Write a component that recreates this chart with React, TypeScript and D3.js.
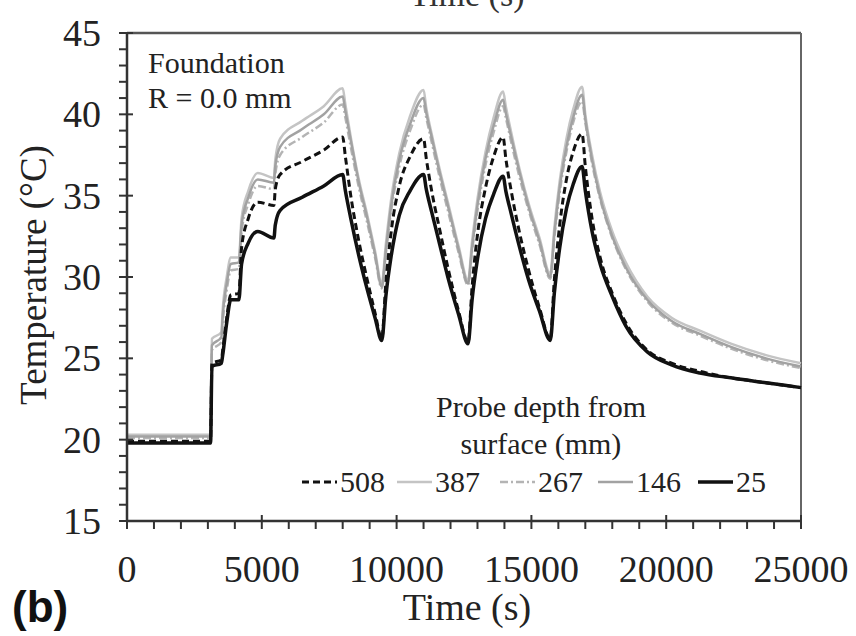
import React from 'react';
import * as d3 from 'd3';

// time grid (s) shared by all probes
const times = [0, 3100, 3150, 3500, 3550, 3700, 3850, 4150, 4250, 4500, 4850, 5450, 5500, 5680, 6500, 7300, 8000,
  8100, 8300, 8600, 8900, 9200, 9450,
  9600, 9800, 10100, 10500, 11000,
  11100, 11300, 11600, 11900, 12300, 12650,
  12800, 13000, 13300, 13600, 13950,
  14050, 14250, 14550, 14900, 15300, 15700,
  15850, 16050, 16300, 16550, 16880,
  17000, 17250, 17550, 18000, 18500, 19300, 20200, 21250, 22400, 23700, 25000];

// temperatures (°C) by probe depth
const t387 = [20.3, 20.3, 26.2, 26.6, 28.0, 30.0, 31.2, 31.2, 33.6, 35.3, 36.4, 36.1, 37.2, 38.5, 39.6, 40.5, 41.6,
  40.6, 38.6, 36.0, 33.9, 31.6, 29.6,
  32.0, 34.8, 37.6, 39.9, 41.5,
  40.4, 38.8, 36.6, 34.6, 31.9, 29.8,
  32.2, 34.8, 37.7, 39.8, 41.4,
  40.5, 38.9, 36.7, 34.5, 32.4, 30.2,
  33.0, 35.9, 38.5, 40.3, 41.7,
  40.0, 37.5, 35.2, 32.8, 30.9, 28.8, 27.5, 26.7, 25.9, 25.2, 24.7];

const t146 = [20.2, 20.2, 25.8, 26.3, 27.6, 29.6, 30.8, 30.9, 33.2, 34.9, 36.0, 35.8, 36.8, 38.0, 39.1, 40.0, 41.1,
  40.2, 38.4, 35.8, 33.7, 31.4, 29.4,
  31.6, 34.4, 37.2, 39.4, 41.0,
  40.1, 38.6, 36.4, 34.4, 31.7, 29.6,
  31.8, 34.4, 37.3, 39.3, 40.9,
  40.1, 38.6, 36.5, 34.3, 32.2, 30.0,
  32.6, 35.5, 38.0, 39.8, 41.2,
  39.7, 37.2, 34.9, 32.5, 30.6, 28.6, 27.3, 26.5, 25.7, 25.0, 24.5];

const t267 = [20.1, 20.1, 25.5, 26.0, 27.2, 29.2, 30.4, 30.5, 32.8, 34.5, 35.6, 35.4, 36.3, 37.5, 38.6, 39.5, 40.6,
  39.8, 38.0, 35.5, 33.4, 31.2, 29.3,
  31.4, 34.1, 36.8, 39.0, 40.6,
  39.8, 38.3, 36.1, 34.1, 31.5, 29.5,
  31.6, 34.1, 36.9, 38.9, 40.5,
  39.8, 38.3, 36.2, 34.1, 32.0, 29.9,
  32.4, 35.2, 37.7, 39.5, 40.8,
  39.5, 37.0, 34.8, 32.4, 30.5, 28.5, 27.2, 26.4, 25.6, 24.9, 24.4];

const t508 = [19.9, 19.9, 24.7, 24.9, 25.5, 27.5, 28.9, 29.0, 31.8, 33.6, 34.6, 34.4, 35.4, 36.3, 37.1, 37.8, 38.6,
  37.4, 35.0, 32.2, 29.9, 27.8, 26.2,
  29.6, 32.8, 35.6, 37.4, 38.5,
  37.3, 35.3, 32.9, 30.6, 27.9, 26.0,
  29.4, 32.6, 35.5, 37.4, 38.6,
  37.3, 35.3, 32.8, 30.4, 28.1, 26.2,
  29.8, 33.2, 36.0, 37.7, 38.8,
  36.8, 33.6, 31.2, 29.0, 27.2, 25.5, 24.7, 24.2, 23.8, 23.5, 23.2];

const t25 = [19.8, 19.8, 24.5, 24.7, 25.2, 27.2, 28.6, 28.6, 30.8, 32.1, 32.8, 32.4, 33.2, 34.1, 34.9, 35.6, 36.3,
  35.3, 33.6, 31.3, 29.3, 27.5, 26.1,
  28.8, 31.3, 33.8, 35.3, 36.3,
  35.4, 34.0, 32.0, 30.0, 27.7, 25.9,
  28.6, 31.1, 33.6, 35.1, 36.2,
  35.3, 33.9, 31.9, 29.8, 27.9, 26.1,
  29.0, 31.8, 34.2, 35.7, 36.8,
  35.3, 32.8, 30.8, 28.8, 27.0, 25.4, 24.6, 24.1, 23.8, 23.5, 23.2];

const xTickLabels = [0, 5000, 10000, 15000, 20000, 25000];
const yTickLabels = [15, 20, 25, 30, 35, 40, 45];

const series = [
  { name: '387', values: t387, color: '#c4c4c4', width: 2.5, dash: null },
  { name: '267', values: t267, color: '#b4b4b4', width: 2.5, dash: '8,3,2,3' },
  { name: '146', values: t146, color: '#a2a2a2', width: 2.5, dash: null },
  { name: '508', values: t508, color: '#111', width: 3, dash: '7,4' },
  { name: '25', values: t25, color: '#111', width: 3.5, dash: null },
];
const legendOrder = ['508', '387', '267', '146', '25'];

const serif = '"Liberation Serif", "DejaVu Serif", serif';

const App = () => {
  const W = 856, H = 636;
  const x = d3.scaleLinear().domain([0, 25000]).range([127, 801]);
  const y = d3.scaleLinear().domain([15, 45]).range([521, 33]);

  const line = d3.line<number>()
    .x((d, i) => x(times[i]))
    .y(d => y(d))
    .curve(d3.curveMonotoneX);

  const xMinor = d3.range(0, 25001, 1000);
  const yMinor = d3.range(15, 46, 1);

  // legend sample positions
  const legendX = { '508': 302, '387': 397, '267': 500, '146': 598, '25': 698 };

  return (
    <svg width={W} height={H} style={{ position: 'absolute', left: 0, top: 0, background: '#fff' }}>
      {/* clipped title from the panel above */}
      <text x={467} y={6} textAnchor="middle" fontFamily={serif} fontSize={34} fill="#333">Time (s)</text>

      {/* frame */}
      <line x1={x(0)} x2={x(25000)} y1={y(45)} y2={y(45)} stroke="#555" strokeWidth={2.5} />
      <line x1={x(25000)} x2={x(25000)} y1={y(45)} y2={y(15)} stroke="#666" strokeWidth={2} />

      {/* series */}
      {series.map(s => (
        <path key={s.name} d={line(s.values) || ''} fill="none" stroke={s.color}
          strokeWidth={s.width} strokeDasharray={s.dash || undefined} strokeLinejoin="round" />
      ))}

      {/* axes */}
      <line x1={x(0)} x2={x(25000)} y1={y(15)} y2={y(15)} stroke="#333" strokeWidth={2.5} />
      <line x1={x(0)} x2={x(0)} y1={y(45)} y2={y(15)} stroke="#333" strokeWidth={2.5} />
      {xMinor.map(t => (
        <line key={'xt' + t} x1={x(t)} x2={x(t)} y1={t % 5000 === 0 ? y(15) - 6 : y(15)} y2={y(15) + 8}
          stroke="#333" strokeWidth={2} />
      ))}
      {yMinor.map(v => (
        <line key={'yt' + v} y1={y(v)} y2={y(v)} x1={x(0) - 8} x2={v % 5 === 0 ? x(0) + 6 : x(0)}
          stroke="#333" strokeWidth={2} />
      ))}
      {xTickLabels.map(t => (
        <text key={'xl' + t} x={x(t)} y={582} textAnchor="middle" fontFamily={serif} fontSize={38} fill="#222">{t}</text>
      ))}
      {yTickLabels.map(v => (
        <text key={'yl' + v} x={101} y={y(v) + 13} textAnchor="end" fontFamily={serif} fontSize={38} fill="#222">{v}</text>
      ))}

      {/* axis titles */}
      <text x={467} y={620} textAnchor="middle" fontFamily={serif} fontSize={38} fill="#222">Time (s)</text>
      <text transform="translate(46,275) rotate(-90)" textAnchor="middle" fontFamily={serif} fontSize={37} fill="#222">Temperature (°C)</text>
      <text x={12} y={622} fontFamily='"Liberation Sans", Arial, sans-serif' fontWeight="bold" fontSize={44} fill="#111">(b)</text>

      {/* annotation */}
      <text x={148} y={73} fontFamily={serif} fontSize={30} fill="#222">Foundation</text>
      <text x={148} y={108} fontFamily={serif} fontSize={30} fill="#222">R = 0.0 mm</text>

      {/* legend */}
      <text x={541} y={417} textAnchor="middle" fontFamily={serif} fontSize={30} fill="#222">Probe depth from</text>
      <text x={541} y={454} textAnchor="middle" fontFamily={serif} fontSize={30} fill="#222">surface (mm)</text>
      {legendOrder.map(n => {
        const s = series.find(d => d.name === n)!;
        const lx = legendX[n as keyof typeof legendX];
        return (
          <g key={'lg' + n}>
            <line x1={lx} x2={lx + 35} y1={482} y2={482} stroke={s.color} strokeWidth={s.width}
              strokeDasharray={s.dash || undefined} />
            <text x={lx + 38} y={492} fontFamily={serif} fontSize={30} fill="#222">{n}</text>
          </g>
        );
      })}
    </svg>
  );
};

export default App;
